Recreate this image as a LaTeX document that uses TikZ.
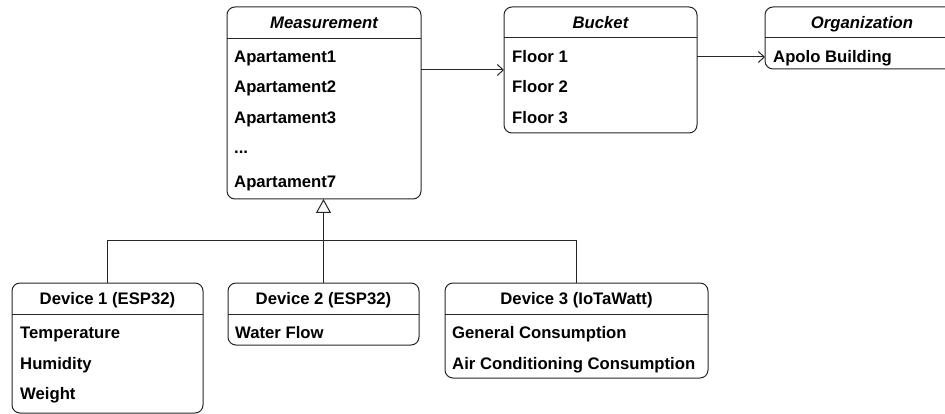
\documentclass[tikz,border=0pt]{standalone}
\usepackage{fontspec}
\setmainfont{Liberation Sans}
\usetikzlibrary{arrows.meta}
\begin{document}
\begin{tikzpicture}[x=1pt,y=-1pt,
  box/.style={draw=black!85, line width=1pt, rounded corners=8pt, inner sep=0pt, outer sep=0pt, anchor=north west},
  hline/.style={draw=black!85, line width=1pt},
  item/.style={anchor=base west, inner sep=0pt, font=\fontsize{16.7}{19}\selectfont\bfseries},
  title/.style={anchor=base, inner sep=0pt, font=\fontsize{16.7}{19}\selectfont\bfseries},
  conn/.style={draw=black!85, line width=1pt},
  assoc/.style={conn, -{Straight Barb[length=6pt,width=11pt,line width=1pt]}},
  inherit/.style={conn, -{Triangle[open,length=14pt,width=15pt,line width=1pt,fill=white]}}
]
\useasboundingbox (0,0) rectangle (945,414);
\clip (0,0) rectangle (945,414);

% Measurement
\node[box, minimum width=194pt, minimum height=192pt] (meas) at (227,7) {};
\draw[hline] (227,39) -- (421,39);
\node[title] (meast) at (324,29) {\itshape Measurement};
\node[item] (m1) at (234,63) {Apartament1};
\node[item] (m2) at (234,93) {Apartament2};
\node[item] (m3) at (234,124) {Apartament3};
\node[item] (m4) at (234,154) {...};
\node[item] (m7) at (234,188) {Apartament7};

% Bucket
\node[box, minimum width=193pt, minimum height=126pt] (bucket) at (504,7) {};
\draw[hline] (504,38) -- (697,38);
\node[title] (buckt) at (600.5,29) {\itshape Bucket};
\node[item] (f1) at (512,63) {Floor 1};
\node[item] (f2) at (512,93) {Floor 2};
\node[item] (f3) at (512,124) {Floor 3};

% Organization
\node[box, minimum width=194pt, minimum height=62pt] (org) at (765,7) {};
\draw[hline] (765,38) -- (959,38);
\node[title] (orgt) at (862,29) {\itshape Organization};
\node[item] (apolo) at (773,63) {Apolo Building};

% Devices
\node[box, minimum width=191pt, minimum height=130pt] (dev1) at (12,283) {};
\draw[hline] (12,314) -- (203,314);
\node[title] (d1t) at (107.5,304) {Device 1 (ESP32)};
\node[item] (temp) at (20,338) {Temperature};
\node[item] (hum) at (20,369) {Humidity};
\node[item] (wei) at (20,399) {Weight};

\node[box, minimum width=191pt, minimum height=62pt] (dev2) at (228,283) {};
\draw[hline] (228,314) -- (419,314);
\node[title] (d2t) at (323.5,304) {Device 2 (ESP32)};
\node[item] (wf) at (235,338) {Water Flow};

\node[box, minimum width=263pt, minimum height=95pt] (dev3) at (445,283) {};
\draw[hline] (445,314) -- (708,314);
\node[title] (d3t) at (576.5,304) {Device 3 (IoTaWatt)};
\node[item] (gc) at (452,338) {General Consumption};
\node[item] (ac) at (452,369) {Air Conditioning Consumption};

% Connectors
\coordinate (a1) at (0,70);
\coordinate (a2) at (0,57);
\draw[assoc] (meas.east |- a1) -- (bucket.west |- a1);
\draw[assoc] (bucket.east |- a2) -- (org.west |- a2);

\coordinate (hub) at (323.5,241);
\draw[conn] (dev1.north) -- (dev1.north |- hub) -- (dev3.north |- hub) -- (dev3.north);
\draw[inherit] (dev2.north) -- (dev2.north |- meas.south);
\end{tikzpicture}
\end{document}
